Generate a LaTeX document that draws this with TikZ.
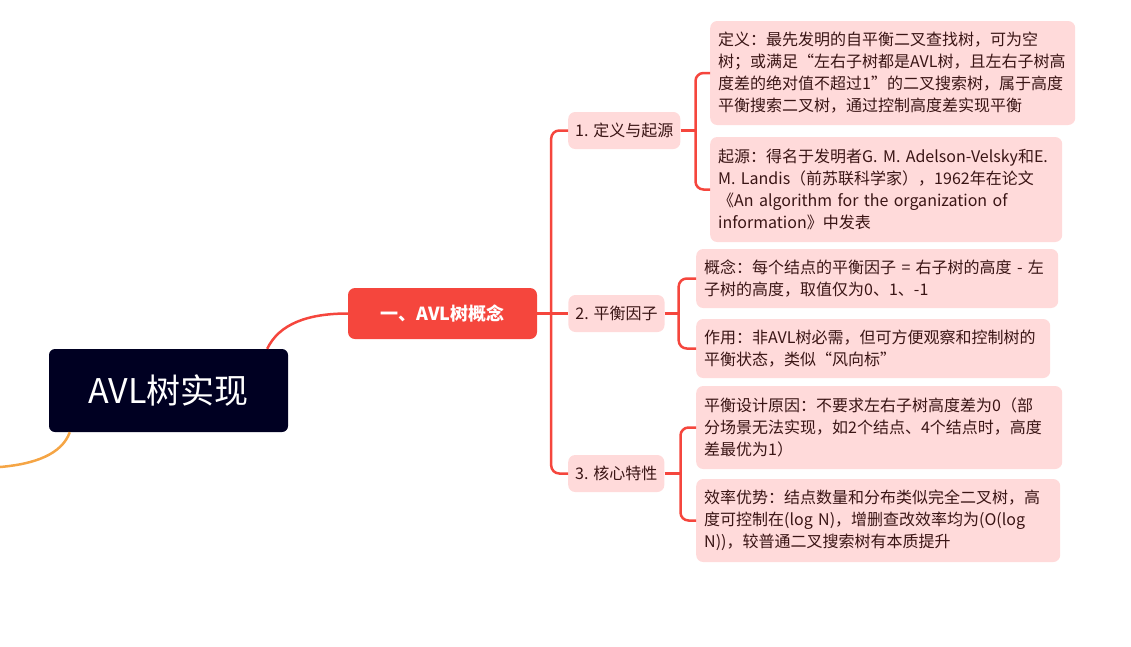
\documentclass[tikz,border=0pt]{standalone}
\usepackage{fontspec}
\setmainfont{Noto Sans CJK SC}
\usetikzlibrary{calc,positioning}
\definecolor{rootfill}{HTML}{000022}
\definecolor{branchred}{HTML}{F5463D}
\definecolor{leafpink}{HTML}{FFDADA}
\definecolor{leaftext}{HTML}{3A1515}
\definecolor{sideorange}{HTML}{F5A545}

\begin{document}
\begin{tikzpicture}[
  x=1pt, y=-1pt,
  root/.style={fill=rootfill, text=white, rounded corners=6pt, minimum width=239pt,
    minimum height=83pt, font=\fontsize{34}{40}\selectfont},
  topic/.style={fill=branchred, text=white, rounded corners=7pt, minimum width=189pt,
    minimum height=51pt, font=\fontsize{18}{22}\selectfont\bfseries},
  sub/.style={fill=leafpink, text=leaftext, rounded corners=7pt, minimum height=37pt,
    inner xsep=7pt, anchor=west, font=\fontsize{16}{20}\selectfont},
  leaf/.style={fill=leafpink, text=leaftext, rounded corners=7pt, inner xsep=8pt,
    align=left, anchor=west, font=\fontsize{16}{22}\selectfont},
  link/.style={draw=branchred, line width=2.5pt, rounded corners=8pt},
  sideline/.style={draw=sideorange, line width=2.5pt}
]
  \useasboundingbox (0,0) rectangle (1131,646);

  \node[root] (root) at (168.5,390.5) {AVL树实现};
  \node[topic] (concept) at (442.5,313.5) {一、AVL树概念};

  \node[sub] (origin) at (568,130.5) {1. 定义与起源};
  \node[sub, right=31pt of concept] (factor) {2. 平衡因子};
  \node[sub] (feature) at (568,473.5) {3. 核心特性};

  \node[leaf, text width=349pt, minimum height=104pt] (define) at (710,73)
    {定义：最先发明的自平衡二叉查找树，可为空\\树；或满足“左右子树都是AVL树，且左右子树高\\度差的绝对值不超过1”的二叉搜索树，属于高度\\平衡搜索二叉树，通过控制高度差实现平衡};
  \node[leaf, text width=336pt, minimum height=105pt] (source) at (710,189.5)
    {起源：得名于发明者G. M. Adelson-Velsky和E.\\M. Landis（前苏联科学家），1962年在论文\\《An algorithm for the organization of\\information》中发表};

  \node[leaf, text width=346pt, minimum height=59pt] (notion) at (696,278.5)
    {概念：每个结点的平衡因子 = 右子树的高度 - 左\\子树的高度，取值仅为0、1、-1};
  \node[leaf, text width=338pt, minimum height=59pt] (usage) at (696,348.5)
    {作用：非AVL树必需，但可方便观察和控制树的\\平衡状态，类似“风向标”};

  \node[leaf, text width=350pt, minimum height=83pt] (reason) at (696,427.5)
    {平衡设计原因：不要求左右子树高度差为0（部\\分场景无法实现，如2个结点、4个结点时，高度\\差最优为1）};
  \node[leaf, text width=348pt, minimum height=83pt] (gain) at (696,520.5)
    {效率优势：结点数量和分布类似完全二叉树，高\\度可控制在(log N)，增删查改效率均为(O(log\\N))，较普通二叉搜索树有本质提升};

  % forks
  \coordinate (fork) at ($(concept.east)+(14,0)$);
  \coordinate (forka) at ($(origin.east)+(15,0)$);
  \coordinate (forkb) at ($(factor.east)+(14,0)$);
  \coordinate (forkc) at ($(feature.east)+(16,0)$);
  \coordinate (offleft) at (0,467);

  \draw[link] ($(root.north east)+(-21,0)$) .. controls +(12,-25) and +(-40,0) .. (concept.west);
  \draw[sideline] ($(root.south west)+(21,0)$) .. controls +(-8,22) and +(35,-3) .. (offleft);

  \draw[link] (concept.east) -- (factor.west);
  \draw[link] (origin.west) -| (fork) |- (feature.west);

  \draw[link] (origin.east) -- (forka);
  \draw[link] (define.west) -| (forka) |- (source.west);
  \draw[link] (factor.east) -- (forkb);
  \draw[link] (notion.west) -| (forkb) |- (usage.west);
  \draw[link] (feature.east) -- (forkc);
  \draw[link] (reason.west) -| (forkc) |- (gain.west);
\end{tikzpicture}
\end{document}
